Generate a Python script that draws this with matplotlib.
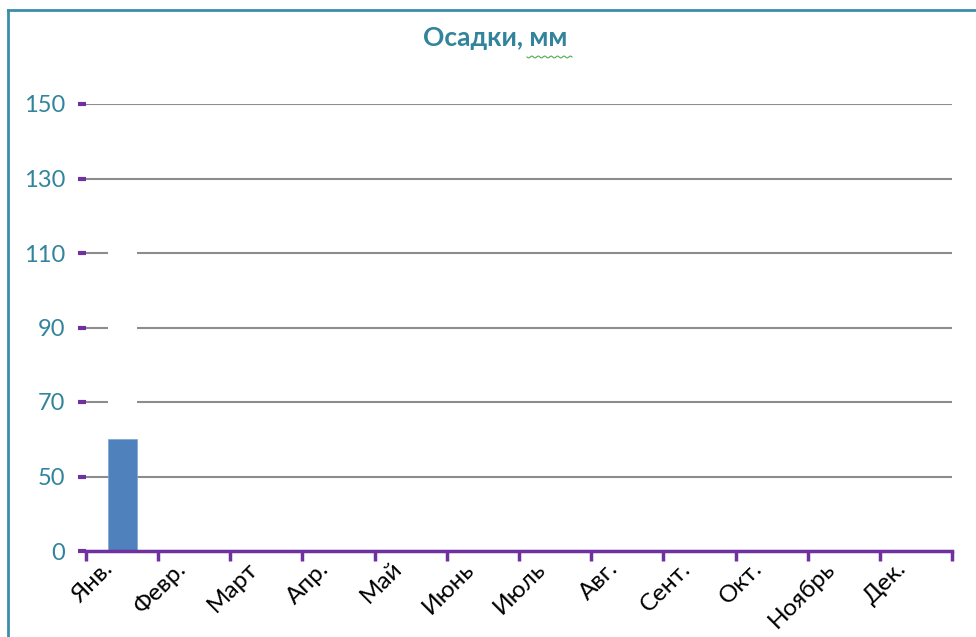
import numpy as np
import matplotlib
matplotlib.use('Agg')
import matplotlib.pyplot as plt
import matplotlib.transforms as mtransforms
from matplotlib.lines import Line2D

plt.rcParams['font.family'] = ['Lato', 'Open Sans', 'DejaVu Sans']

# ---- данные ----
months = ['Янв.', 'Февр.', 'Март', 'Апр.', 'Май', 'Июнь',
          'Июль', 'Авг.', 'Сент.', 'Окт.', 'Ноябрь', 'Дек.']
precip = [60, 0, 0, 0, 0, 0, 0, 0, 0, 0, 0, 0]
hidden = [60, 0, 0, 0, 0, 0, 0, 0, 0, 0, 0, 0]   # невидимый (белый) ряд поверх
ytick_vals = [0, 50, 70, 90, 110, 130, 150]

teal = '#31849B'
purple = '#7030A0'

# неравномерная шкала: подписи стоят на равных расстояниях
pos = np.arange(len(ytick_vals), dtype=float)
def fwd(y):
    return np.interp(y, ytick_vals, pos)
def inv(p):
    return np.interp(p, pos, ytick_vals)

fig = plt.figure(figsize=(9.76, 6.37), dpi=100)
ax = fig.add_axes([86/976, 1 - 551/637, (952 - 86)/976, (551 - 104)/637])
ax.set_yscale('function', functions=(fwd, inv))

x = np.arange(len(months))
ax.bar(x, precip, width=0.4, color='#4F81BD', edgecolor='#7FA6D6', linewidth=0.5, zorder=3)
ax.bar(x, hidden, bottom=precip, width=0.4, color='white', linewidth=0, zorder=3)

ax.set_xlim(-0.5, len(months) - 0.5)
ax.set_ylim(0, 150)
ax.set_yticks(ytick_vals)
ax.set_yticklabels([str(v) for v in ytick_vals])
ax.yaxis.grid(True, color='#8c8c8c', linewidth=1.5, zorder=0)
ax.set_axisbelow(True)

ax.set_xticks(np.arange(len(months) + 1) - 0.5)
ax.set_xticklabels([])
ax.tick_params(axis='x', which='major', length=7, width=2.5, color=purple, direction='out')
ax.tick_params(axis='y', length=6, width=3, color=purple, direction='out',
               labelsize=17, labelcolor=teal, pad=9)

# подписи месяцев (как в Excel: конец подписи левее центра категории)
shift = mtransforms.ScaledTranslation(-20/100, -7/100, fig.dpi_scale_trans)
for i, m in enumerate(months):
    ax.text(i, 0, m, transform=ax.get_xaxis_transform() + shift,
            rotation=45, ha='right', va='top', rotation_mode='anchor',
            fontsize=17.5, color='black')

for s in ['top', 'right', 'left']:
    ax.spines[s].set_visible(False)
ax.spines['bottom'].set_color(purple)
ax.spines['bottom'].set_linewidth(2.5)
ax.spines['bottom'].set_zorder(4)

fig.text(495/976, 1 - 38/637, 'Осадки, мм', ha='center', va='center',
         fontsize=19, fontweight='bold', color=teal)

# волнистое подчёркивание проверки орфографии
wx = np.linspace(527, 572, 40)
wy = 57 + 1.0 * np.sin(np.linspace(0, 14 * np.pi, 40))
fig.add_artist(Line2D(wx / 976, 1 - wy / 637, color='#4CAF50', linewidth=0.8))

# рамка диаграммы
fig.add_artist(Line2D([8/976, 8/976], [0, 1 - 10/637], color='#3D8DAA', linewidth=2))
fig.add_artist(Line2D([8/976, 1], [1 - 10/637, 1 - 10/637], color='#3D8DAA', linewidth=2))

fig.savefig('out.png', dpi=100)
